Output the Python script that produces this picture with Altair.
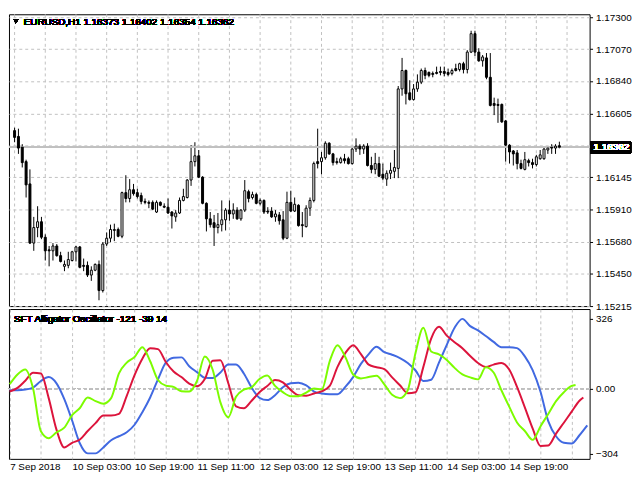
import altair as alt
import pandas as pd

# ---------------- data ----------------
bars = list(range(143))
opens = [1.16482,1.16440,1.16363,1.16258,1.16097,1.15670,1.15782,1.15824,1.15712,1.15621,
         1.15614,1.15649,1.15579,1.15502,1.15509,1.15544,1.15607,1.15642,1.15509,1.15509,
         1.15439,1.15474,1.15516,1.15327,1.15663,1.15705,1.15761,1.15768,1.15719,1.16034,
         1.15992,1.16055,1.16034,1.16013,1.15971,1.15964,1.15964,1.15894,1.15964,1.15936,
         1.15929,1.15894,1.15859,1.15887,1.15978,1.15999,1.16125,1.16258,1.16300,1.16146,
         1.15957,1.15845,1.15817,1.15782,1.15803,1.15838,1.15908,1.15880,1.15908,1.15845,
         1.15908,1.16041,1.15999,1.16020,1.15957,1.15978,1.15901,1.15901,1.15859,1.15873,
         1.15838,1.15705,1.15964,1.15901,1.15943,1.15803,1.15789,1.15922,1.15978,1.16258,
         1.16258,1.16286,1.16391,1.16314,1.16258,1.16251,1.16279,1.16279,1.16244,1.16349,
         1.16370,1.16349,1.16370,1.16230,1.16202,1.16244,1.16167,1.16132,1.16174,1.16188,
         1.16209,1.16783,1.16916,1.16755,1.16706,1.16783,1.16832,1.16916,1.16902,1.16895,
         1.16902,1.16909,1.16909,1.16902,1.16895,1.16930,1.16923,1.16965,1.16923,1.17049,
         1.17182,1.17049,1.16986,1.17007,1.16867,1.16678,1.16671,1.16671,1.16552,1.16377,
         1.16335,1.16321,1.16244,1.16202,1.16265,1.16251,1.16237,1.16279,1.16279,1.16342,
         1.16363,1.16356,1.16373]
highs = [1.16503,1.16496,1.16384,1.16272,1.16202,1.15859,1.15936,1.15859,1.15733,1.15649,
         1.15670,1.15663,1.15607,1.15544,1.15607,1.15614,1.15649,1.15649,1.15558,1.15537,
         1.15502,1.15523,1.15544,1.15677,1.15747,1.15803,1.15810,1.15782,1.16041,1.16160,
         1.16132,1.16097,1.16062,1.16034,1.15992,1.15978,1.15978,1.15978,1.15971,1.15957,
         1.15992,1.15901,1.15908,1.15999,1.16062,1.16132,1.16377,1.16398,1.16342,1.16153,
         1.15964,1.15894,1.15873,1.15887,1.15978,1.15922,1.15978,1.15957,1.15929,1.15915,
         1.16125,1.16055,1.16041,1.16034,1.15992,1.15985,1.15929,1.15929,1.15908,1.15894,
         1.15901,1.16041,1.16048,1.15999,1.15950,1.15894,1.15943,1.15999,1.16258,1.16496,
         1.16328,1.16405,1.16398,1.16321,1.16286,1.16293,1.16314,1.16293,1.16356,1.16426,
         1.16384,1.16384,1.16391,1.16293,1.16321,1.16293,1.16244,1.16195,1.16251,1.16342,
         1.16804,1.17007,1.16923,1.16846,1.16818,1.16888,1.16930,1.16937,1.16909,1.16909,
         1.16944,1.16944,1.16944,1.16930,1.16930,1.16965,1.16972,1.16979,1.17063,1.17203,
         1.17203,1.17077,1.17028,1.17042,1.17042,1.16720,1.16713,1.16678,1.16559,1.16384,
         1.16342,1.16342,1.16272,1.16328,1.16279,1.16279,1.16307,1.16342,1.16356,1.16370,
         1.16384,1.16384,1.16402]
lows = [1.16398,1.16314,1.16216,1.15999,1.15663,1.15614,1.15712,1.15698,1.15544,1.15502,
        1.15544,1.15572,1.15530,1.15467,1.15488,1.15537,1.15537,1.15488,1.15467,1.15425,
        1.15397,1.15467,1.15257,1.15313,1.15649,1.15677,1.15684,1.15712,1.15705,1.15964,
        1.15964,1.16013,1.15992,1.15950,1.15950,1.15922,1.15908,1.15887,1.15936,1.15922,
        1.15880,1.15775,1.15824,1.15880,1.15971,1.15992,1.16083,1.16223,1.16139,1.15950,
        1.15754,1.15782,1.15649,1.15740,1.15754,1.15761,1.15831,1.15845,1.15838,1.15831,
        1.15894,1.15964,1.15985,1.15950,1.15943,1.15880,1.15880,1.15852,1.15824,1.15803,
        1.15691,1.15698,1.15894,1.15894,1.15789,1.15712,1.15782,1.15866,1.15964,1.16209,
        1.16167,1.16272,1.16307,1.16230,1.16237,1.16244,1.16244,1.16237,1.16237,1.16328,
        1.16307,1.16314,1.16223,1.16174,1.16167,1.16146,1.16125,1.16083,1.16132,1.16139,
        1.16139,1.16734,1.16671,1.16699,1.16699,1.16762,1.16818,1.16853,1.16867,1.16867,
        1.16888,1.16881,1.16874,1.16874,1.16881,1.16909,1.16909,1.16895,1.16895,1.17042,
        1.17021,1.16979,1.16944,1.16853,1.16657,1.16594,1.16538,1.16538,1.16258,1.16244,
        1.16230,1.16202,1.16202,1.16195,1.16223,1.16209,1.16223,1.16272,1.16272,1.16314,
        1.16314,1.16314,1.16354]
closes = [1.16433,1.16356,1.16251,1.16090,1.15670,1.15782,1.15824,1.15712,1.15614,1.15614,
          1.15649,1.15579,1.15537,1.15516,1.15551,1.15607,1.15642,1.15495,1.15502,1.15439,
          1.15474,1.15516,1.15327,1.15663,1.15705,1.15768,1.15768,1.15719,1.16034,1.15992,
          1.16055,1.16027,1.16006,1.15971,1.15964,1.15957,1.15915,1.15964,1.15943,1.15929,
          1.15887,1.15866,1.15887,1.15978,1.16006,1.16125,1.16258,1.16300,1.16146,1.15957,
          1.15845,1.15803,1.15782,1.15803,1.15838,1.15908,1.15880,1.15908,1.15845,1.15908,
          1.16048,1.15992,1.16020,1.15957,1.15978,1.15894,1.15894,1.15859,1.15880,1.15831,
          1.15705,1.15964,1.15901,1.15950,1.15796,1.15796,1.15922,1.15978,1.16244,1.16244,
          1.16286,1.16391,1.16314,1.16251,1.16251,1.16279,1.16265,1.16244,1.16349,1.16370,
          1.16349,1.16370,1.16230,1.16202,1.16244,1.16153,1.16139,1.16174,1.16195,1.16216,
          1.16783,1.16916,1.16748,1.16706,1.16783,1.16832,1.16916,1.16881,1.16881,1.16888,
          1.16895,1.16902,1.16895,1.16888,1.16916,1.16916,1.16965,1.16923,1.17049,1.17182,
          1.17049,1.16986,1.17014,1.16867,1.16664,1.16664,1.16664,1.16545,1.16377,1.16328,
          1.16314,1.16244,1.16209,1.16272,1.16251,1.16237,1.16293,1.16307,1.16349,1.16356,
          1.16356,1.16370,1.16362]

jaw_bars = list(range(0, 149, 2))
jaw_vals = [-7.7,-7.7,-4.6,4.6,35.4,53.8,24.6,-49.2,-149.1,-256.7,
            -303,-303,-275.1,-241.3,-222.9,-204.4,-169.1,-110.7,-41.5,43.0,
            121.4,144.5,146.0,104.5,76.9,50.7,49.2,75.3,112.2,112.2,
            70.7,4.6,-43.0,-53.8,-30.7,6.1,24.6,27.7,15.4,-13.8,
            -23.1,-26.1,-26.1,7.7,53.8,115.3,161.4,195.2,170.6,158.3,
            142.9,119.9,84.5,35.4,41.5,121.4,204.4,284.3,326,292.0,
            272.0,245.9,218.3,193.7,193.7,189.1,150.6,86.1,-13.8,-152.2,
            -222.9,-253.6,-256.7,-218.3,-172.1]
teeth_bars = list(range(0, 147, 2)) + [147]
teeth_vals = [-13.8,3.1,36.9,73.8,70.7,-44.6,-192.1,-275.1,-253.6,-238.2,
              -198.3,-161.4,-126.1,-126.1,-118.4,-33.8,63.0,139.9,189.1,184.4,
              124.5,79.9,53.8,23.1,10.8,44.6,130.6,132.2,26.1,-83.0,
              -92.2,-56.9,-16.9,12.3,40.0,29.2,-6.1,-30.7,-33.8,-23.1,
              -12.3,12.3,101.4,166.0,202.9,161.4,112.2,99.9,90.7,52.3,
              15.4,-21.5,-16.9,101.4,233.6,289.0,247.5,216.7,189.1,152.2,
              119.9,101.4,112.2,119.9,89.1,7.7,-87.6,-186.0,-268,-266,
              -210.6,-159.8,-107.6,-56.9,-41.5]
lips_bars = list(range(0, 145, 2)) + [145]
lips_vals = [20.0,66.1,89.1,0,-199.8,-232,-204.4,-182.9,-124.5,-90.7,
             -41.5,-58.4,-70.7,-44.6,70.7,121.4,147.6,193.7,127.6,40.0,
             13.8,7.7,-12.3,-13.8,35.4,150,89.1,-64.6,-134,-38.4,
             -4.6,6.1,44.6,61.5,12.3,-16.9,-35.4,-35.4,-18.4,0,
             -3.1,127.6,202.9,147.6,66.1,47.6,53.8,59.9,20.0,-29.2,
             -44.6,-7.7,167.5,284.3,173.7,159.8,133.7,96.8,66.1,52.3,
             43.0,99.9,75.3,-7.7,-84.5,-158.3,-198.3,-239.8,-176.8,-118.4,
             -58.4,-16.9,12.3,16.9]

price_ticks = [1.17300, 1.17070, 1.16840, 1.16605, 1.16375, 1.16145, 1.15910, 1.15680, 1.15450, 1.15215]
osc_ticks = [326, 0, -304]
grid_bars = list(range(0, 149, 8))
time_ticks = [0, 16, 32, 48, 64, 80, 96, 112, 128]
time_labels = ["7 Sep 2018", "10 Sep 03:00", "10 Sep 19:00", "11 Sep 11:00", "12 Sep 03:00",
               "12 Sep 19:00", "13 Sep 11:00", "14 Sep 03:00", "14 Sep 19:00"]
symbol_text = "EURUSD,H1  1.16373 1.16402 1.16354 1.16362"
osc_text = "SFT Alligator Oscillator -121 -39 14"

# ---------------- chart ----------------
FONT = "Liberation Sans"
FS = 10
W, H_TOP, H_BOT = 589, 296, 152
GRID = "#c0c0c0"

candles = pd.DataFrame({"bar": bars, "open": opens, "high": highs, "low": lows, "close": closes})
candles["fill"] = ["white" if c >= o else "black" for o, c in zip(opens, closes)]
last_close = closes[-1]
vgrid = pd.DataFrame({"bar": grid_bars})

x_scale = alt.Scale(domain=[-0.175, 148.6], nice=False, zero=False)
y_scale_top = alt.Scale(domain=[1.15215, 1.17322], nice=False, zero=False)
y_axis_top = alt.Axis(orient="right", values=price_ticks, title=None, domain=False,
                      grid=True, gridColor=GRID, gridDash=[3, 3], tickSize=3, tickColor="black",
                      labelOverlap=False, labelBound=False, labelFlush=False, labelPadding=3,
                      labelExpr="(datum.value > 1.1637 && datum.value < 1.1638) ? '' : format(datum.value, '.5f')")

def xt():
    return alt.X("bar:Q", scale=x_scale, axis=None)

grid_top = alt.Chart(vgrid).mark_rule(color=GRID, strokeDash=[3, 3], strokeWidth=1).encode(x=xt())
wicks = alt.Chart(candles).mark_rule(color="black", strokeWidth=1).encode(
    x=xt(), y=alt.Y("low:Q", scale=y_scale_top, axis=y_axis_top), y2="high:Q")
bodies = alt.Chart(candles).mark_bar(size=2, stroke="black", strokeWidth=1).encode(
    x=xt(), y=alt.Y("open:Q", scale=y_scale_top, axis=y_axis_top), y2="close:Q",
    fill=alt.Fill("fill:N", scale=None))
price_line = alt.Chart(candles).mark_rule(color=GRID, strokeWidth=1).encode(
    y=alt.Y(datum=last_close, scale=y_scale_top, axis=y_axis_top))
price_box = alt.Chart(candles).mark_rect(color="black", clip=False, yOffset=-6, y2Offset=6).encode(
    x=alt.value(W + 1), x2=alt.value(W + 42),
    y=alt.Y(datum=last_close, scale=y_scale_top, axis=y_axis_top), y2=alt.Y2(datum=last_close))
price_txt = alt.Chart(candles).mark_text(color="white", align="left", baseline="middle",
                                         font=FONT, fontSize=FS, clip=False).encode(
    x=alt.value(W + 4), y=alt.Y(datum=last_close, scale=y_scale_top, axis=y_axis_top),
    text=alt.value(f"{last_close:.5f}"))
tri = alt.Chart(candles).mark_point(shape="triangle-down", filled=True, color="black",
                                    size=22, opacity=1).encode(x=alt.value(7), y=alt.value(7))
sym = alt.Chart(candles).mark_text(align="left", baseline="middle", font=FONT, fontSize=FS,
                                   color="black").encode(
    x=alt.value(15), y=alt.value(8), text=alt.value(symbol_text))

top = alt.layer(grid_top, wicks, price_line, bodies, price_box, price_txt, tri, sym).properties(
    width=W, height=H_TOP)

# oscillator panel
jaw = pd.DataFrame({"bar": jaw_bars, "v": jaw_vals})
teeth = pd.DataFrame({"bar": teeth_bars, "v": teeth_vals})
lips = pd.DataFrame({"bar": lips_bars, "v": lips_vals})

label_expr = " : ".join(f"datum.value == {b} ? '{l}'" for b, l in zip(time_ticks, time_labels)) + " : ''"
x_axis_bot = alt.Axis(values=grid_bars, labelExpr=label_expr, labelAlign="left", labelPadding=3,
                      ticks=False, domain=False, grid=True, gridColor=GRID, gridDash=[3, 3],
                      title=None, labelOverlap=False, labelBound=False, labelFlush=False)
y_scale_bot = alt.Scale(domain=[-328.7, 372], nice=False, zero=False)
y_axis_bot = alt.Axis(orient="right", values=osc_ticks, title=None, domain=False, grid=False,
                      tickSize=3, tickColor="black", labelOverlap=False, labelPadding=3,
                      labelExpr="datum.value == 0 ? '0.00' : format(datum.value, 'd')")

zero = alt.Chart(jaw).mark_rule(color=GRID, strokeDash=[3, 3]).encode(
    y=alt.Y(datum=0, scale=y_scale_bot, axis=y_axis_bot))

def osc_line(df, color):
    return alt.Chart(df).mark_line(color=color, strokeWidth=2, clip=True, interpolate="monotone").encode(
        x=alt.X("bar:Q", scale=x_scale, axis=x_axis_bot),
        y=alt.Y("v:Q", scale=y_scale_bot, axis=y_axis_bot))

osc_lbl = alt.Chart(jaw).mark_text(align="left", baseline="middle", font=FONT, fontSize=FS,
                                   color="black").encode(
    x=alt.value(5), y=alt.value(10), text=alt.value(osc_text))

bottom = alt.layer(zero, osc_line(jaw, "#4169E1"), osc_line(teeth, "#DC143C"),
                   osc_line(lips, "#7CFC00"), osc_lbl).properties(width=W, height=H_BOT)

chart = alt.vconcat(top, bottom, spacing=3, bounds="flush").properties(
    padding=0, background="white"
).configure_view(stroke="black", strokeWidth=1).configure_axis(
    labelFont=FONT, labelFontSize=FS, labelColor="black", labelOverlap=False
)

chart.save("out.html", embed_options={"renderer": "svg", "actions": False})
